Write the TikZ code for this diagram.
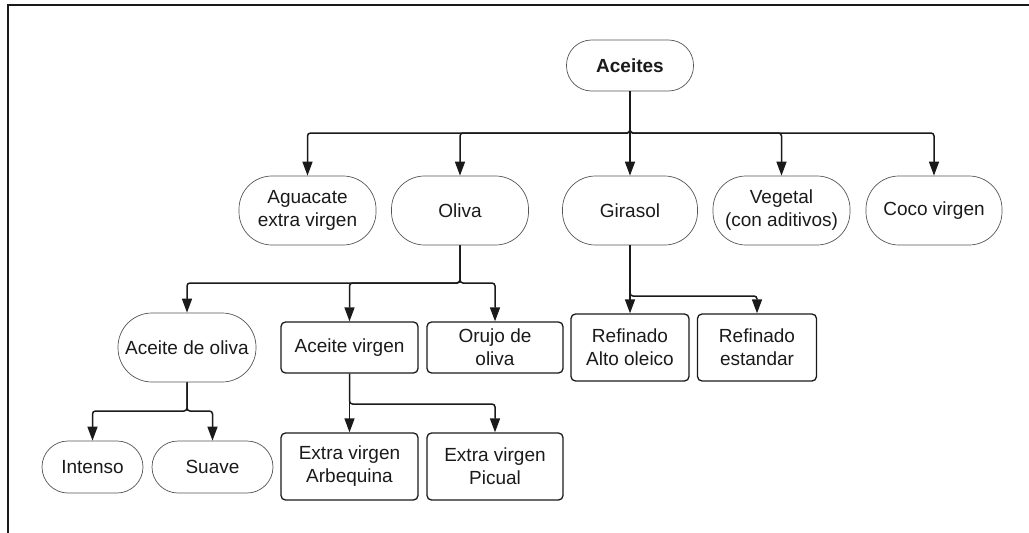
\documentclass[tikz,border=0pt]{standalone}
\usepackage{fontspec}
\setmainfont{Liberation Sans}
\usetikzlibrary{arrows.meta}
\definecolor{ink}{HTML}{1A1A1A}
\definecolor{thin}{HTML}{555555}
\tikzset{
  pill/.style={draw=thin, line width=0.7pt, rounded corners=#1, inner sep=0pt, align=center, text=ink,
    font=\fontsize{19}{23}\selectfont},
  pill/.default=33pt,
  box/.style={draw=ink, line width=1.3pt, rounded corners=4.5pt, inner sep=0pt, align=center, text=ink,
    font=\fontsize{19}{23}\selectfont},
  arr/.style={draw=ink, line width=1.5pt, rounded corners=3pt, -{Triangle[length=14pt,width=10pt]}},
  frame/.style={draw=ink, line width=2pt}
}
\begin{document}
\begin{tikzpicture}[x=1pt,y=-1pt]
\useasboundingbox (0,0) rectangle (1029,533);
\draw[frame] (7.5,533) -- (7.5,5) -- (1029,5);

% level 0
\node[pill=25pt, minimum width=127pt, minimum height=51pt, font=\fontsize{19}{23}\selectfont\bfseries] (aceites) at (630,65.5) {Aceites};

% level 1
\node[pill, minimum width=137pt, minimum height=69pt] (agua) at (307.5,210.5) {Aguacate\\extra virgen};
\node[pill, minimum width=137pt, minimum height=69pt] (oliva) at (460,210.5) {Oliva};
\node[pill, minimum width=135pt, minimum height=69pt] (girasol) at (630,210.5) {Girasol};
\node[pill, minimum width=137pt, minimum height=69pt] (vegetal) at (781.5,210.5) {Vegetal\\(con aditivos)};
\node[pill, minimum width=136pt, minimum height=69pt] (coco) at (934,210.5) {Coco virgen};

% level 2
\node[pill=34pt, minimum width=138pt, minimum height=69pt] (adeo) at (187,347.5) {Aceite de oliva};
\node[box, minimum width=137pt, minimum height=51pt] (av) at (349.5,347.5) {Aceite virgen};
\node[box, minimum width=136pt, minimum height=51pt] (orujo) at (495,347.5) {Orujo de\\oliva};
\node[box, minimum width=118pt, minimum height=67pt] (alto) at (630,347.5) {Refinado\\Alto oleico};
\node[box, minimum width=119pt, minimum height=67pt] (estandar) at (757,347.5) {Refinado\\estandar};

% level 3
\node[pill=26pt, minimum width=101pt, minimum height=52pt] (intenso) at (92.5,467) {Intenso};
\node[pill=26pt, minimum width=121pt, minimum height=52pt] (suave) at (212.5,467) {Suave};
\node[box, minimum width=137pt, minimum height=67pt] (arbe) at (349.5,466.5) {Extra virgen\\Arbequina};
\node[box, minimum width=136pt, minimum height=67pt] (picual) at (495,466.5) {Extra virgen\\Picual};

% bus coordinates
\coordinate (b0) at (630,133);
\coordinate (b1) at (460,283);
\coordinate (b2) at (630,296);
\coordinate (b3) at (187,411);
\coordinate (b4) at (349.5,404);

% connectors
\draw[arr] (aceites.south) -- (b0) -| (agua.north);
\draw[arr] (aceites.south) -- (b0) -| (oliva.north);
\draw[arr] (aceites.south) -- (girasol.north);
\draw[arr] (aceites.south) -- (b0) -| (vegetal.north);
\draw[arr] (aceites.south) -- (b0) -| (coco.north);

\draw[arr] (oliva.south) -- (b1) -| (adeo.north);
\draw[arr] (oliva.south) -- (b1) -| (av.north);
\draw[arr] (oliva.south) -- (b1) -| (orujo.north);

\draw[arr] (girasol.south) -- (alto.north);
\draw[arr] (girasol.south) -- (b2) -| (estandar.north);

\draw[arr] (adeo.south) -- (b3) -| (intenso.north);
\draw[arr] (adeo.south) -- (b3) -| (suave.north);

\draw[arr] (av.south) -- (arbe.north);
\draw[arr] (av.south) -- (b4) -| (picual.north);
\end{tikzpicture}
\end{document}
